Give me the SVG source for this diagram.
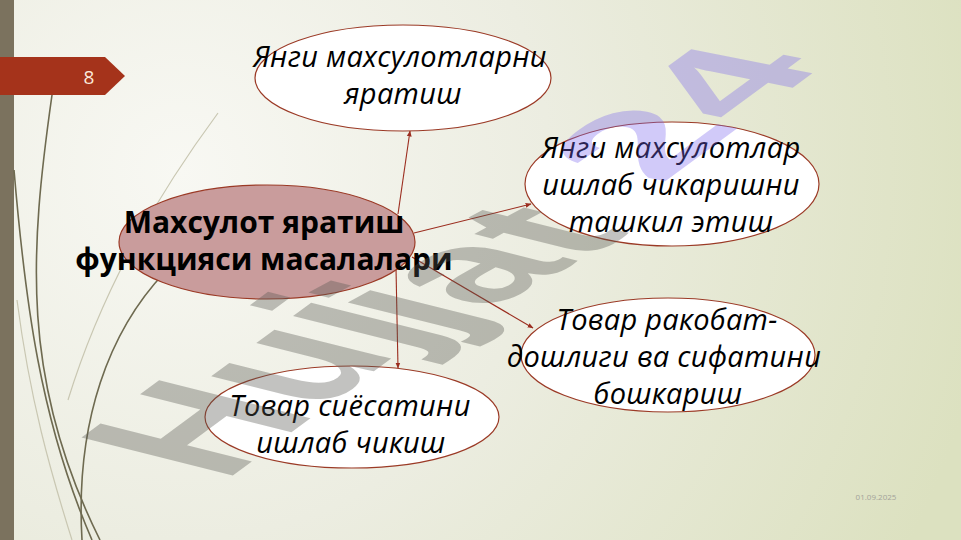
<svg xmlns="http://www.w3.org/2000/svg" width="961" height="540" viewBox="0 0 961 540">
<defs>
<radialGradient id="bg" cx="180" cy="170" r="820" gradientUnits="userSpaceOnUse">
<stop offset="0" stop-color="#f8f8f3"/>
<stop offset="0.45" stop-color="#ecede1"/>
<stop offset="1" stop-color="#dce1c0"/>
</radialGradient>
<marker id="ah" viewBox="0 0 10 10" refX="9" refY="5" markerWidth="6" markerHeight="6" orient="auto" markerUnits="userSpaceOnUse">
<path d="M0,1 L10,5 L0,9 z" fill="#9b2d1f"/>
</marker>
<style>
.stem{fill:none;stroke:#6e6a50;stroke-width:1.6}
.faint{fill:none;stroke:#c9c7b2;stroke-width:1.2}
.node{fill:#ffffff;stroke:#9b3a26;stroke-width:1.2}
.main{fill:#c99c9c;stroke:#9b3a26;stroke-width:1.2}
.it{font-family:"Open Sans","Noto Sans",sans-serif;font-style:italic;font-size:29px;letter-spacing:0.3px;fill:#000;text-anchor:middle}
.bd{font-family:"Open Sans","Noto Sans",sans-serif;font-weight:bold;font-size:30px;fill:#000;text-anchor:middle}
.conn line{stroke:#9b2d1f;stroke-width:1.1;marker-end:url(#ah)}
.wm{font-family:"Liberation Sans",Arial,sans-serif;font-weight:bold;font-size:100px}
.wg{fill:#555550;fill-opacity:0.36}
.wp{fill:#7b68ee;fill-opacity:0.35}
</style>
</defs>
<rect width="961" height="540" fill="url(#bg)"/>
<rect x="0" y="0" width="14" height="540" fill="#7b725e"/>
<g id="decor">
<path class="faint" d="M218,113 C165,185 105,280 68,400"/>
<path class="faint" d="M17,300 C30,400 50,470 72,540"/>
<path class="stem" d="M52,95 C30,250 20,380 100,540"/>
<path class="stem" d="M14,170 C25,300 40,420 92,540"/>
<path class="stem" d="M165,272 C110,330 75,420 82,540"/>
</g>
<g id="page-tag">
<polygon points="0,57 105,57 125,76 105,95 0,95" fill="#a5331b"/>
<text x="89" y="84" font-family="Open Sans, sans-serif" font-size="19" fill="#fbe9dc" text-anchor="middle">8</text>
</g>
<g id="connectors" class="conn">
<line x1="398" y1="214" x2="410" y2="131"/>
<line x1="414" y1="233" x2="531" y2="204"/>
<line x1="412" y1="257" x2="533" y2="328"/>
<line x1="396" y1="268" x2="398" y2="368"/>
</g>
<g id="n-main">
<ellipse class="main" cx="267" cy="242" rx="148" ry="57"/>
<text class="bd"><tspan x="264" y="233">Махсулот яратиш</tspan><tspan x="264" y="270">функцияси масалалари</tspan></text>
</g>
<g id="n-top">
<ellipse class="node" cx="403" cy="78" rx="148" ry="53"/>
<text class="it"><tspan x="400" y="67">Янги махсулотларни</tspan><tspan x="403" y="104">яратиш</tspan></text>
</g>
<g id="n-right1">
<ellipse class="node" cx="672" cy="184" rx="147" ry="62"/>
<text class="it"><tspan x="671" y="158">Янги махсулотлар</tspan><tspan x="671" y="195">ишлаб чикаришни</tspan><tspan x="671" y="232">ташкил этиш</tspan></text>
</g>
<g id="n-right2">
<ellipse class="node" cx="668" cy="355" rx="147" ry="57"/>
<text class="it"><tspan x="667" y="330">Товар ракобат-</tspan><tspan x="664" y="367">дошлиги ва сифатини</tspan><tspan x="668" y="404">бошкариш</tspan></text>
</g>
<g id="n-bottom">
<ellipse class="node" cx="352" cy="417" rx="147" ry="51"/>
<text class="it"><tspan x="350" y="416">Товар сиёсатини</tspan><tspan x="351" y="453">ишлаб чикиш</tspan></text>
</g>
<text x="876" y="500" font-family="Open Sans, sans-serif" font-size="8" fill="#a3a39a" text-anchor="middle">01.09.2025</text>
<g id="watermark" class="wm">
<text class="wg" transform="matrix(1.32,-0.975,2.2,0.55,224,482)">Huj</text>
<text class="wg" transform="matrix(1.63,-0.88,2.0,0.5,442,335)">jat</text>
<text class="wp" transform="matrix(1.5,-1.1,1.76,0.35,660,185)">24</text>
</g>
</svg>
